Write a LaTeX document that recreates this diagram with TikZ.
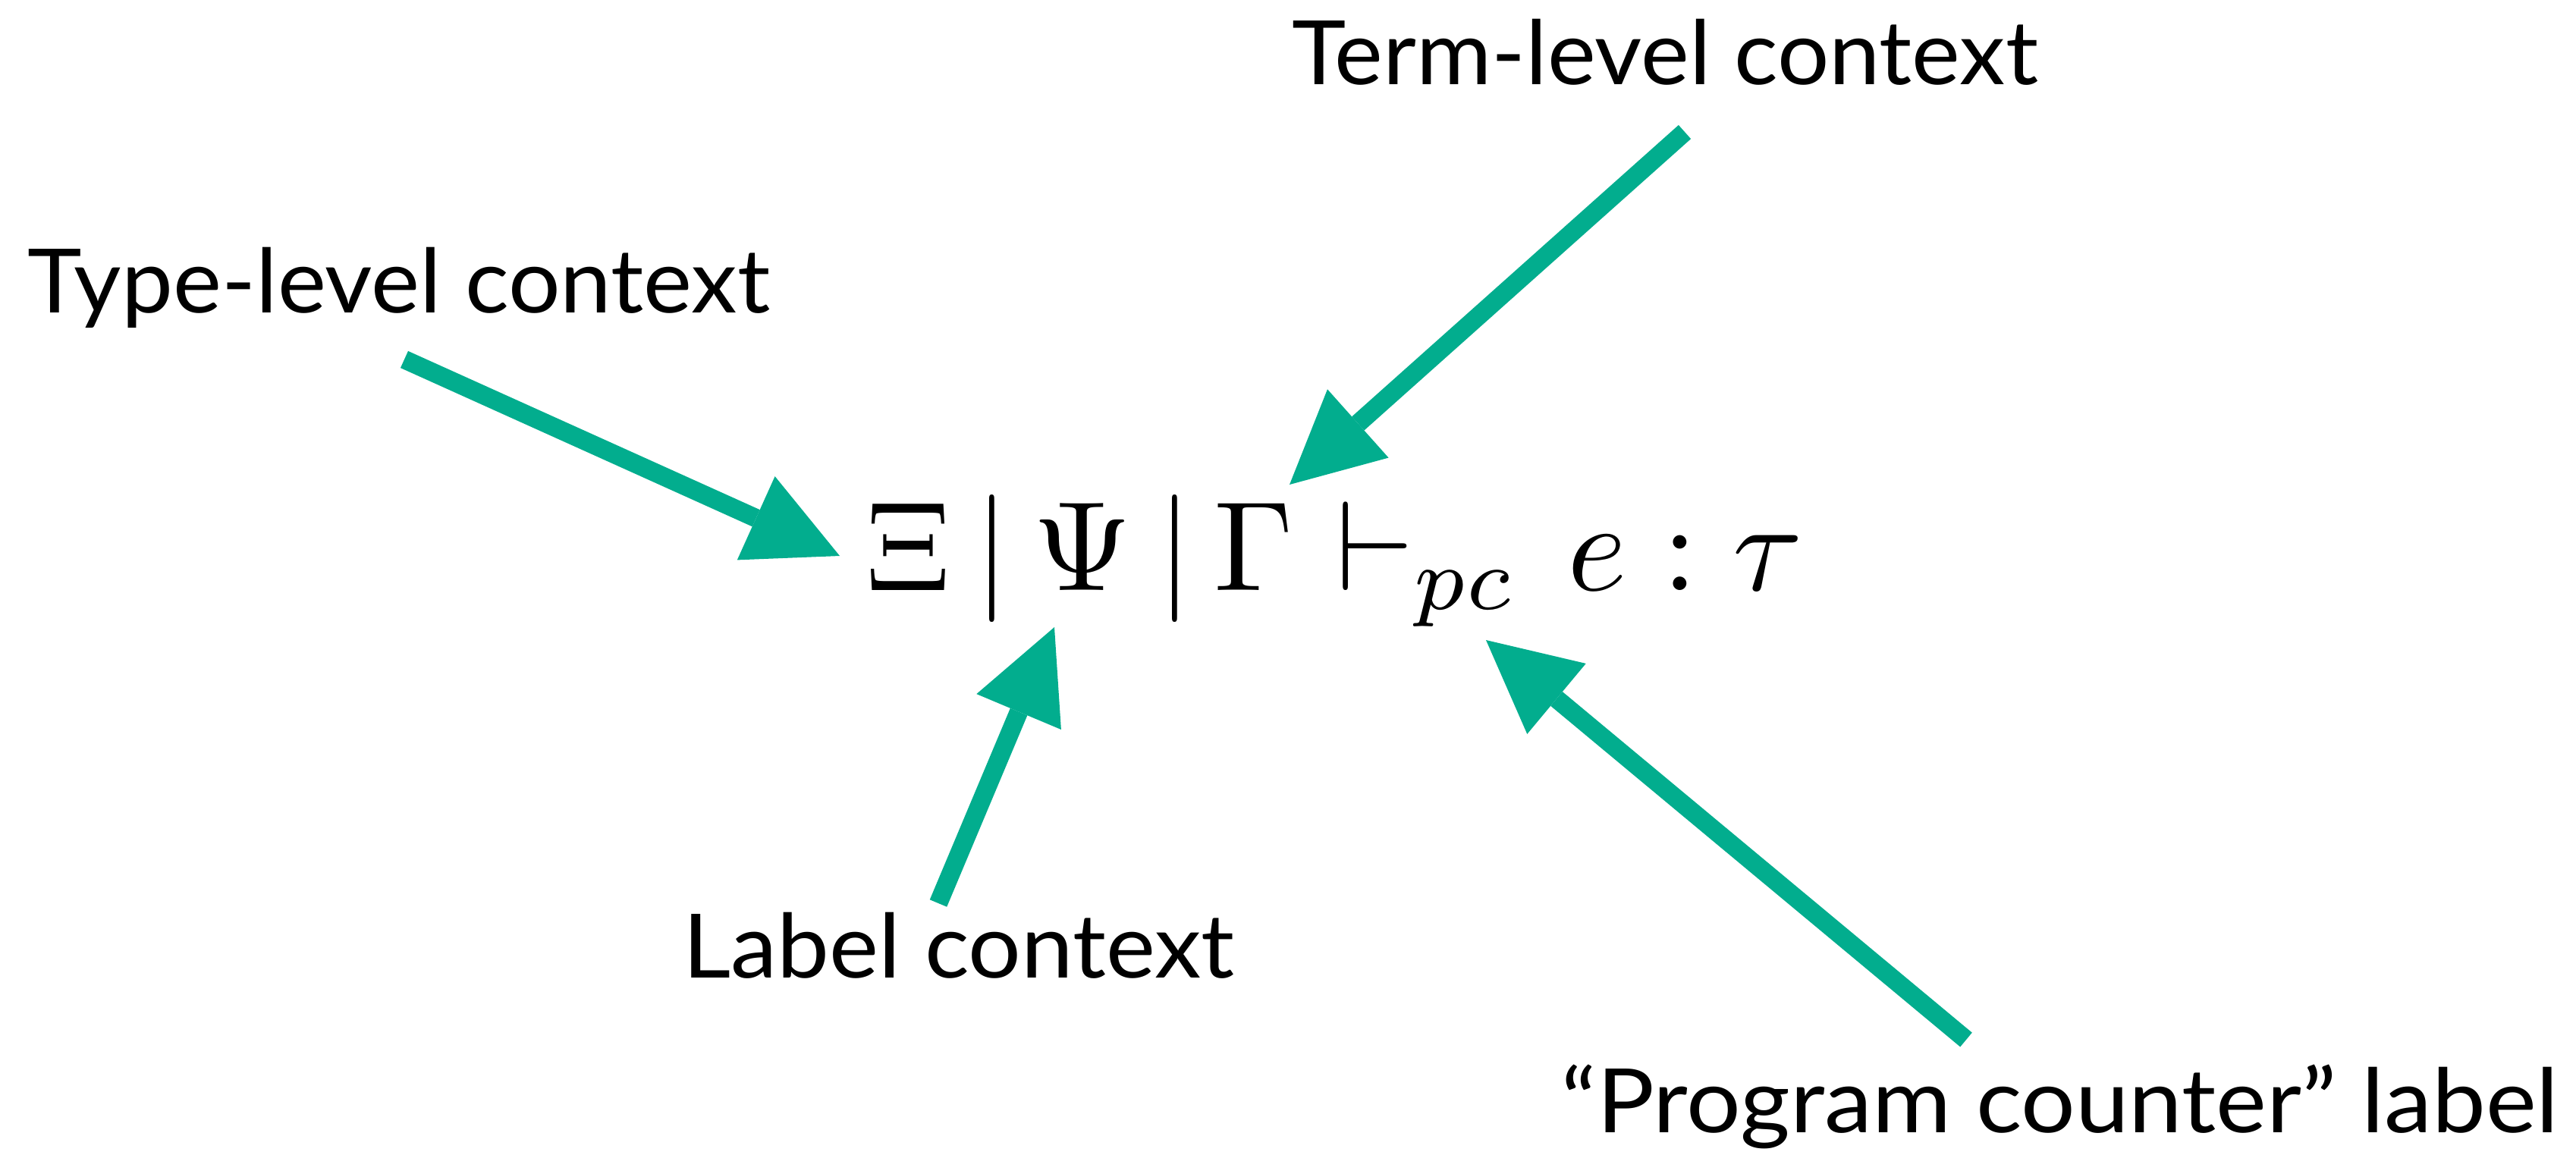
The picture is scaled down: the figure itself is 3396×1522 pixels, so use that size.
\documentclass[tikz,border=0pt]{standalone}
\usepackage{fontspec}
\setmainfont{Lato}
\usetikzlibrary{arrows.meta}
\definecolor{tealc}{RGB}{2,173,142}
\begin{document}
\begin{tikzpicture}[x=0.25pt,y=-0.25pt,
  lbl/.style={inner sep=0pt,anchor=base,font=\fontsize{29.3pt}{35pt}\selectfont},
  arr/.style={draw=tealc,line width=6.1pt,
    -{Triangle[length=30.25pt,width=30.25pt,line width=0pt,fill=tealc]}}]
\useasboundingbox (0,0) rectangle (3396,1522);
\node[lbl] (type) at (526,412) {\scalebox{1.034}[1]{Type-level context}};
\node[lbl] (term) at (2195,111) {\scalebox{1.03}[1]{Term-level context}};
\node[lbl] (label) at (1264,1289) {\scalebox{1.05}[1]{Label context}};
\node[lbl] (pc) at (2716,1493) {\scalebox{1.08}[1]{“Program counter” label}};
\node[inner sep=0pt,anchor=base west] (judg) at (1141,778)
  {\scalebox{4.2}{$\Xi\mkern3.3mu\vert\mkern3.2mu\Psi\mkern3.6mu\vert\mkern3mu\Gamma\mkern6mu{\vdash}_{pc}\mkern7mu e\mkern5mu{:}\mkern5mu\tau$}};
\coordinate (typeT) at (533,474);
\coordinate (typeH) at (1107,733);
\coordinate (termT) at (2221,174);
\coordinate (termH) at (1700,639);
\coordinate (labelT) at (1237,1191);
\coordinate (labelH) at (1390,827);
\coordinate (pcT) at (2592,1371);
\coordinate (pcH) at (1959,844);
\draw[arr] (typeT) -- (typeH);
\draw[arr] (termT) -- (termH);
\draw[arr] (labelT) -- (labelH);
\draw[arr] (pcT) -- (pcH);
\end{tikzpicture}
\end{document}
